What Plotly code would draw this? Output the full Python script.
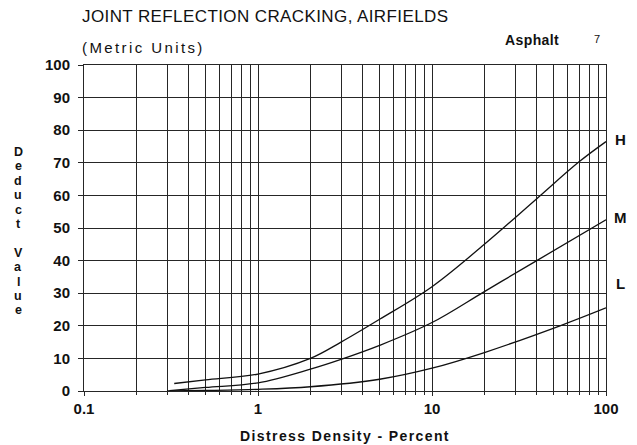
import plotly.graph_objects as go

# Deduct value curves for joint reflection cracking (asphalt airfields, metric units)
density_h = [0.33, 0.5, 1, 2, 3, 5, 10, 20, 40, 70, 100]
deduct_h = [2.3, 3.4, 5.2, 10, 15, 22, 32, 45, 59, 70.3, 76.5]

density_m = [0.31, 0.5, 1, 2, 3, 5, 10, 20, 40, 100]
deduct_m = [0.1, 1.1, 2.5, 6.7, 9.7, 14, 21, 30.5, 40, 52.5]

density_l = [0.3, 0.5, 1, 2, 5, 10, 20, 54.4, 100]
deduct_l = [0, 0.15, 0.5, 1.3, 3.6, 7, 11.8, 20, 25.5]

severity = ["H", "M", "L"]
x_ticks = [0.1, 1, 10, 100]
x_tick_text = ["0.1", "1", "10", "100"]
y_ticks = list(range(0, 101, 10))
minor_x = [m * d for d in (0.1, 1, 10) for m in range(2, 10)]

FONT = "Liberation Sans, Arial, Helvetica, sans-serif"
INK = "#111111"

fig = go.Figure()
for xs, ys in ((density_h, deduct_h), (density_m, deduct_m), (density_l, deduct_l)):
    fig.add_trace(go.Scatter(
        x=xs, y=ys, mode="lines",
        line=dict(color=INK, width=1.3, shape="spline", smoothing=1.0),
        hoverinfo="skip", showlegend=False,
    ))

grid = "#262626"
fig.update_xaxes(
    type="log", range=[-1, 2],
    tickvals=x_ticks, ticktext=["<b>%s</b>" % t for t in x_tick_text],
    tickfont=dict(family=FONT, size=15, color=INK),
    showgrid=True, gridcolor=grid, gridwidth=1,
    minor=dict(tickvals=minor_x, showgrid=True, gridcolor=grid, gridwidth=1,
               ticks="outside", ticklen=3, tickcolor=grid),
    ticks="outside", ticklen=4, tickcolor=grid,
    showline=True, linecolor=grid, linewidth=1, mirror=True,
    zeroline=False,
)
fig.update_yaxes(
    range=[0, 100],
    tickvals=y_ticks, ticktext=["<b>%d</b>" % v for v in y_ticks],
    tickfont=dict(family=FONT, size=15, color=INK),
    ticklabelstandoff=5,
    showgrid=True, gridcolor=grid, gridwidth=1,
    ticks="outside", ticklen=5, tickcolor=grid,
    showline=True, linecolor=grid, linewidth=1, mirror=True,
    zeroline=False,
)

L, R, T, B = 84, 31, 65, 54
W, H = 637, 445
pw, ph = W - L - R, H - T - B


def px(x):
    return (x - L) / pw


def py(y):
    return (H - B - y) / ph


ann = []
ann.append(dict(text='<span style="letter-spacing:0.4px">JOINT REFLECTION CRACKING, AIRFIELDS</span>',
                x=px(80), y=py(17), xanchor="left", yanchor="middle",
                font=dict(family=FONT, size=17, color=INK)))
ann.append(dict(text='<span style="letter-spacing:2.4px">(Metric Units)</span>',
                x=px(80), y=py(47), xanchor="left", yanchor="middle",
                font=dict(family=FONT, size=15, color=INK)))
ann.append(dict(text='<b><span style="letter-spacing:0.4px">Asphalt</span></b>',
                x=px(561), y=py(40), xanchor="right", yanchor="middle",
                font=dict(family=FONT, size=14, color=INK)))
ann.append(dict(text="7", x=px(597), y=py(39), xanchor="center", yanchor="middle",
                font=dict(family=FONT, size=11, color=INK)))
ann.append(dict(text='<b><span style="letter-spacing:1.4px">Distress Density - Percent</span></b>',
                x=px(345), y=py(436), xanchor="center", yanchor="middle",
                font=dict(family=FONT, size=14, color=INK)))

# vertical stacked axis title
label = "Deduct Value"
for i, ch in enumerate(label):
    if ch == " ":
        continue
    ann.append(dict(text="<b>%s</b>" % ch, x=px(18), y=py(152 + 14.4 * i),
                    xanchor="center", yanchor="middle",
                    font=dict(family=FONT, size=12.5, color=INK)))

# severity labels at the curve ends
for name, yp in zip(severity, (139, 217, 283)):
    ann.append(dict(text="<b>%s</b>" % name, x=px(620), y=py(yp),
                    xanchor="center", yanchor="middle",
                    font=dict(family=FONT, size=15, color=INK)))

for a in ann:
    a.update(xref="paper", yref="paper", showarrow=False)

fig.update_layout(
    width=W, height=H,
    margin=dict(l=L, r=R, t=T, b=B),
    paper_bgcolor="white", plot_bgcolor="white",
    annotations=ann,
)

fig.write_html("out.html")
